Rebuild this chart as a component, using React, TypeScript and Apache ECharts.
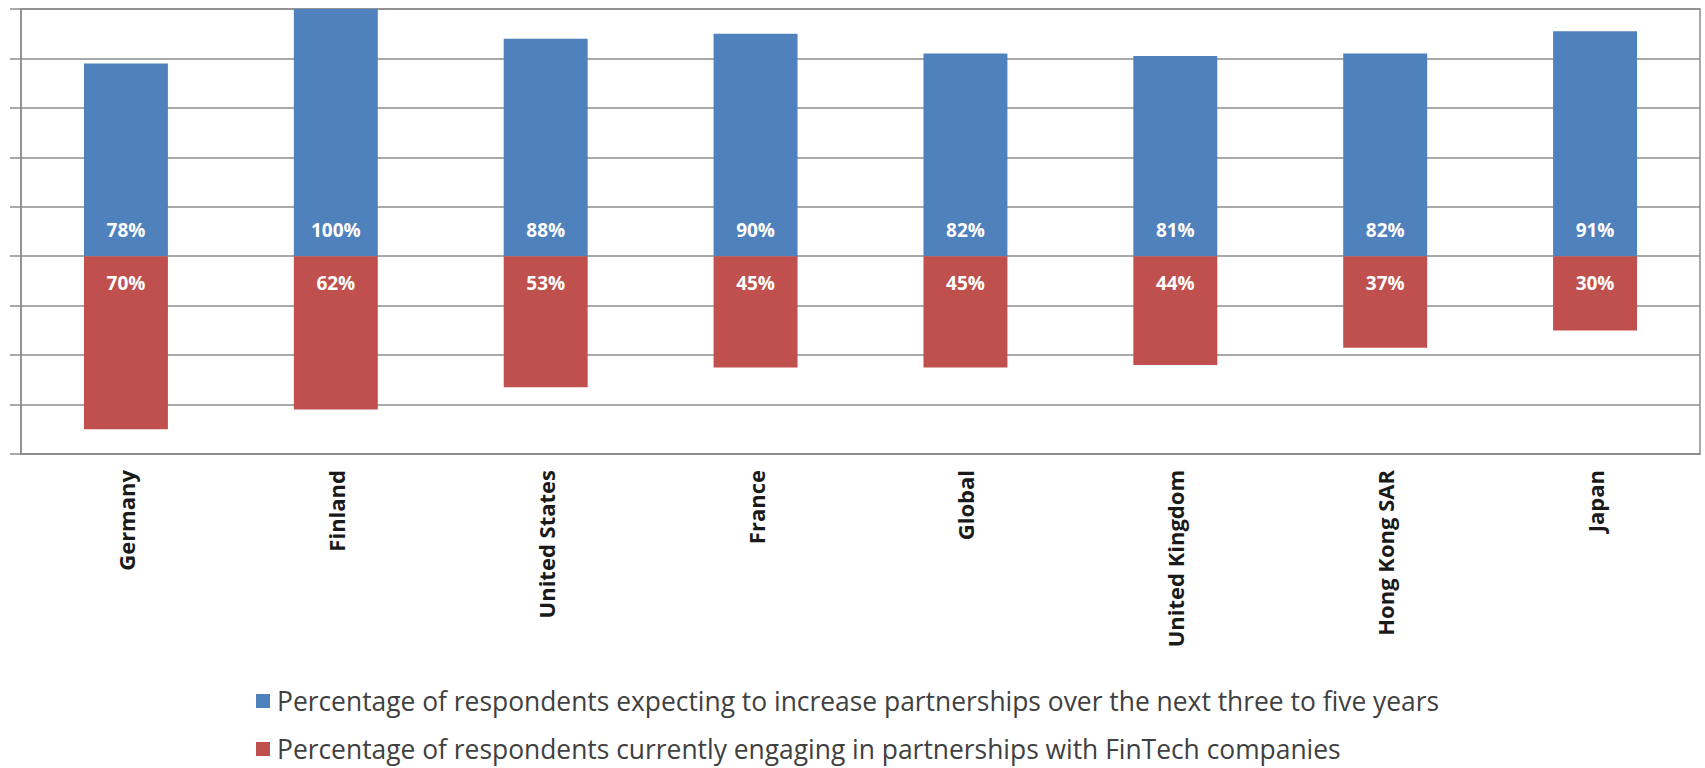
import { useEffect, useRef } from "react";
import * as echarts from "echarts";

const categories = [
  "Germany",
  "Finland",
  "United States",
  "France",
  "Global",
  "United Kingdom",
  "Hong Kong SAR",
  "Japan",
];
const expectingIncrease = [78, 100, 88, 90, 82, 81, 82, 91];
const currentlyEngaging = [70, 62, 53, 45, 45, 44, 37, 30];
const seriesNames = [
  "Percentage of respondents expecting to increase partnerships over the next three to five years",
  "Percentage of respondents currently engaging in partnerships with FinTech companies",
];

const FONT = "'Open Sans', Lato, sans-serif";
const GRID_COLOR = "#8c8c8c";

const legendFor = (name: string, top: number) => ({
  orient: "horizontal",
  left: 251,
  top,
  itemWidth: 14,
  itemHeight: 14,
  icon: "rect",
  selectedMode: false,
  textStyle: {
    fontFamily: FONT,
    fontSize: 26.4,
    color: "#404040",
    padding: [0, 0, 0, 2],
  },
  data: [name],
});

export default function App() {
  const ref = useRef<HTMLDivElement>(null);
  useEffect(() => {
    document.body.style.margin = "0";
    const chart = echarts.init(ref.current!, null, { renderer: "svg" });
    chart.setOption({
      animation: false,
      backgroundColor: "#ffffff",
      grid: {
        left: 21,
        right: 5,
        top: 9,
        bottom: 314,
        show: true,
        borderColor: GRID_COLOR,
        borderWidth: 1.5,
        backgroundColor: "transparent",
      },
      legend: [legendFor(seriesNames[0], 683), legendFor(seriesNames[1], 731)],
      xAxis: {
        type: "category",
        data: categories,
        axisLine: { onZero: false, lineStyle: { color: GRID_COLOR, width: 1.5 } },
        axisTick: { show: false },
        axisLabel: {
          rotate: 90,
          margin: 16,
          fontFamily: FONT,
          fontWeight: "bold",
          fontSize: 22,
          color: "#1a1a1a",
        },
      },
      yAxis: {
        type: "value",
        min: -80,
        max: 100,
        interval: 20,
        axisLabel: { show: false },
        axisLine: { show: true, lineStyle: { color: GRID_COLOR, width: 1.5 } },
        axisTick: { show: true, length: 11, lineStyle: { color: GRID_COLOR, width: 1.5 } },
        splitLine: { show: true, lineStyle: { color: GRID_COLOR, width: 1.5 } },
      },
      series: [
        {
          name: seriesNames[0],
          type: "bar",
          stack: "total",
          barWidth: "40%",
          data: expectingIncrease,
          itemStyle: { color: "#4F81BD" },
          label: {
            show: true,
            position: "insideBottom",
            distance: 17,
            formatter: (p: any) => `${Math.abs(p.value)}%`,
            color: "#ffffff",
            fontFamily: FONT,
            fontWeight: "bold",
            fontSize: 19,
          },
        },
        {
          name: seriesNames[1],
          type: "bar",
          stack: "total",
          barWidth: "40%",
          data: currentlyEngaging.map((v) => -v),
          itemStyle: { color: "#C0504D" },
          label: {
            show: true,
            position: "insideTop",
            distance: 17,
            formatter: (p: any) => `${Math.abs(p.value)}%`,
            color: "#ffffff",
            fontFamily: FONT,
            fontWeight: "bold",
            fontSize: 19,
          },
        },
      ],
    });
    return () => chart.dispose();
  }, []);
  return <div ref={ref} style={{ width: 1705, height: 768 }} />;
}
